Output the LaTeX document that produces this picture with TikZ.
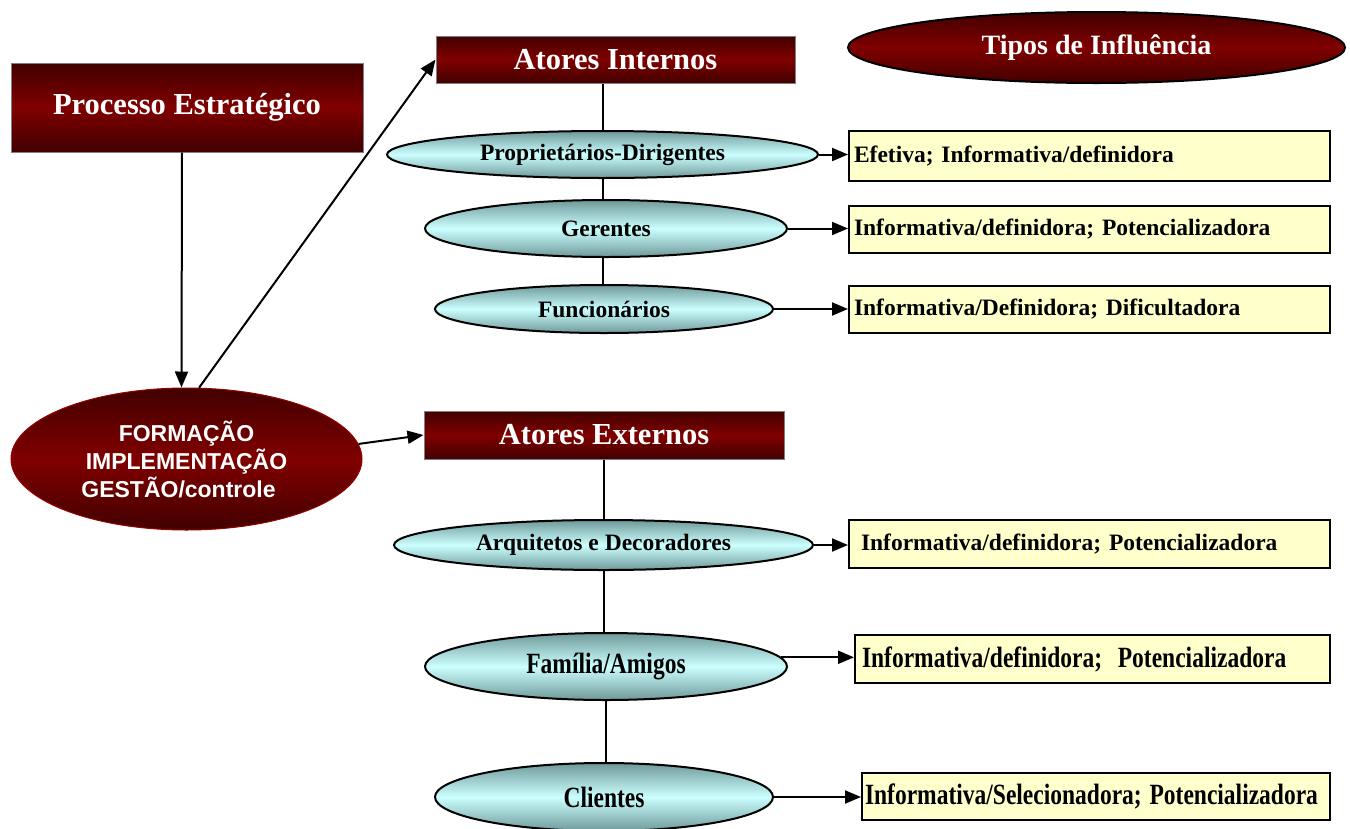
\documentclass[tikz,border=0pt]{standalone}
\usepackage{fontspec}
\usepackage{graphicx}
\setmainfont{Liberation Serif}
\newfontfamily\arialb{Liberation Sans}
\usetikzlibrary{shapes.geometric,arrows.meta}
\definecolor{rdark}{HTML}{420000}
\definecolor{rmid}{HTML}{800000}
\definecolor{cydark}{HTML}{6F9999}
\definecolor{cylight}{HTML}{CCFFFF}
\definecolor{yel}{HTML}{FFFFCC}
\frenchspacing
\begin{document}
\begin{tikzpicture}[x=1pt,y=-1pt,
  redbox/.style={rectangle, draw=gray, line width=1pt, top color=rdark, bottom color=rdark, middle color=rmid, text=white, inner sep=0pt, font=\fontsize{30.5}{36}\selectfont\bfseries},
  cyanell/.style={ellipse, draw=black, line width=2pt, top color=cydark, bottom color=cydark, middle color=cylight, inner sep=0pt, font=\fontsize{23.5}{28}\selectfont\bfseries},
  yelbox/.style={rectangle, draw=black, line width=2pt, fill=yel, inner ysep=0pt, align=left, font=\fontsize{23.5}{28}\selectfont\bfseries},
  arr/.style={-{Triangle[length=16pt,width=13pt]}, line width=2pt},
  link/.style={line width=2pt}]
\useasboundingbox (0,0) rectangle (1350,828);

% left side
\node[redbox, minimum width=352pt, minimum height=89pt] (proc) at (187,107.5) {Processo Estratégico};
\node[ellipse, draw=rmid!80!red, line width=1pt, top color=rdark, bottom color=rdark, middle color=rmid, text=white, inner sep=0pt, minimum width=351pt, minimum height=142pt, align=center, font=\arialb\bfseries\fontsize{23}{28}\selectfont] (form) at (186.5,459) {FORMAÇÃO\\IMPLEMENTAÇÃO\\GESTÃO/controle\hspace*{16pt}};

% header nodes
\node[redbox, minimum width=359pt, minimum height=47pt] (ai) at (615.5,59.5) {Atores Internos};
\node[redbox, minimum width=360pt, minimum height=48pt] (ae) at (604,435) {Atores Externos};
\node[ellipse, draw=black, line width=2pt, top color=rdark, bottom color=rdark, middle color=rmid, text=white, inner sep=0pt, minimum width=497pt, minimum height=71pt, font=\fontsize{28}{34}\selectfont\bfseries] (tipos) at (1096.5,47.5) {Tipos de Influência};

% internal actors
\node[cyanell, minimum width=431pt, minimum height=47pt] (pd) at (602.5,154.5) {Proprietários-Dirigentes};
\node[cyanell, minimum width=362pt, minimum height=57pt] (ge) at (606,228.5) {Gerentes};
\node[cyanell, minimum width=338pt, minimum height=48pt] (fu) at (604,309) {Funcionários};

% external actors
\node[cyanell, minimum width=419pt, minimum height=50pt] (ar) at (603.5,545) {Arquitetos e Decoradores};
\node[cyanell, minimum width=362pt, minimum height=67pt] (fa) at (606,666.5) {\scalebox{1}[1.25]{Família/Amigos}};
\node[cyanell, minimum width=338pt, minimum height=68pt] (cl) at (604,797) {\scalebox{1}[1.25]{Clientes}};

% influence boxes
\node[yelbox, inner xsep=5pt, text width=471pt, minimum height=50pt] (b1) at (1089.5,156) {Efetiva; Informativa/definidora};
\node[yelbox, inner xsep=5pt, text width=471pt, minimum height=47pt] (b2) at (1089.5,229.5) {Informativa/definidora; Potencializadora};
\node[yelbox, inner xsep=5pt, text width=471pt, minimum height=47pt] (b3) at (1089.5,309.5) {Informativa/Definidora; Dificultadora};
\node[yelbox, inner xsep=12pt, text width=457pt, minimum height=48pt] (b4) at (1089.5,544) {Informativa/definidora; Potencializadora};
\node[yelbox, inner xsep=7pt, text width=461pt, minimum height=48pt] (b5) at (1092.5,659) {\scalebox{1}[1.25]{Informativa/definidora;\ \ Potencializadora}};
\node[yelbox, inner xsep=3pt, text width=462pt, minimum height=47pt] (b6) at (1096,796.5) {\scalebox{1}[1.25]{Informativa/Selecionadora; Potencializadora}};

% connectors left
\draw[arr] ([xshift=-5pt]proc.south) -- ([xshift=-5pt]form.north);
\draw[arr] (form.80) -- (ai.west);
\draw[arr] (form.5) -- (ae.west);

% vertical links internal
\draw[link] (pd.north |- ai.south) -- (pd.north);
\draw[link] (pd.south) -- (pd.south |- ge.north);
\draw[link] (pd.south |- ge.south) -- (pd.south |- fu.north);

% vertical links external
\draw[link] (ae.south) -- (ae.south |- ar.north);
\draw[link] (ae.south |- ar.south) -- (ae.south |- fa.north);
\draw[link] (fa.south) -- (fa.south |- cl.north);

% arrows to influence boxes
\draw[arr] (pd.east) -- (b1.west |- pd.east);
\draw[arr] (ge.east) -- (b2.west |- ge.east);
\draw[arr] (fu.east) -- (b3.west |- fu.east);
\draw[arr] (ar.east) -- (b4.west |- ar.east);
\draw[arr] (fa.3) -- (b5.west |- fa.3);
\draw[arr] (cl.east) -- (b6.west |- cl.east);
\end{tikzpicture}
\end{document}
